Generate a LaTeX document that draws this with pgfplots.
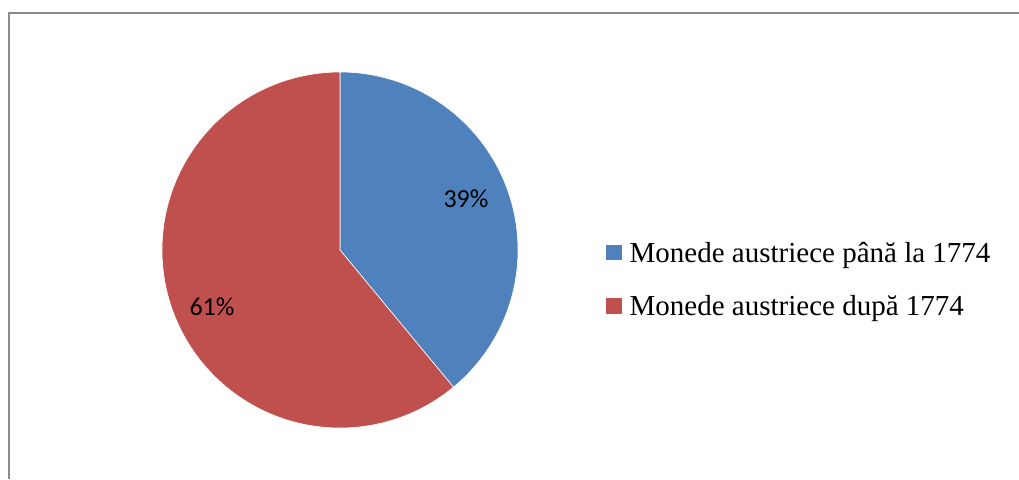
\documentclass[border=0pt]{standalone}
\usepackage{pgfplots}
\pgfplotsset{compat=1.18}
\usepackage{pgfplotstable}
\usepackage{fontspec}
\setmainfont{Liberation Serif}
\newfontfamily\calibri{Carlito}
\definecolor{pieblue}{HTML}{4F81BD}
\definecolor{piered}{HTML}{C0504D}
\definecolor{framegray}{HTML}{8C8C8C}

\pgfplotstableread{
value
39
61
}\piedata
\pgfplotstablegetelem{0}{value}\of\piedata \let\va\pgfplotsretval
\pgfplotstablegetelem{1}{value}\of\piedata \let\vb\pgfplotsretval
\pgfmathsetmacro\aA{90}
\pgfmathsetmacro\aB{90-3.6*\va}
\pgfmathsetmacro\aC{\aB-3.6*\vb}

\begin{document}
\begin{tikzpicture}
\begin{axis}[
  at={(0,0)}, anchor=south west,
  scale only axis, width=1019pt, height=479pt,
  xmin=0, xmax=1019, ymin=0, ymax=479,
  axis lines=none, clip=false,
  legend image code/.code={\fill[#1, draw=none] (0pt,-7.5pt) rectangle (15.5pt,8pt);},
  legend style={at={(0.5947,0.4165)}, anchor=west, draw=none, fill=none,
    font=\fontsize{29}{34}\selectfont, row sep=26pt, inner sep=0pt,
    nodes={inner sep=3pt},
    /tikz/every odd column/.append style={column sep=5pt}},
  legend cell align=left,
]
\addplot[fill=pieblue, draw=white, line width=0.6pt, domain=\aB:\aA, samples=150, variable=\t]
  ({340+178*cos(\t)},{229+178*sin(\t)}) -- (axis cs:340,229) -- cycle;
\addlegendentry{Monede austriece până la 1774}
\addplot[fill=piered, draw=white, line width=0.6pt, domain=\aC:\aB, samples=250, variable=\t]
  ({340+178*cos(\t)},{229+178*sin(\t)}) -- (axis cs:340,229) -- cycle;
\addlegendentry{Monede austriece după 1774}
\node[font=\calibri\fontsize{26}{31}\selectfont] at (axis cs:466,280) {39\%};
\node[font=\calibri\fontsize{26}{31}\selectfont] at (axis cs:212,172) {61\%};
\end{axis}
\draw[framegray, line width=2pt] (8.5pt,0pt) -- (8.5pt,466.3pt) -- (1019pt,466.3pt);
\pgfresetboundingbox
\path (0,0) rectangle (1019pt,479pt);
\end{tikzpicture}
\end{document}
